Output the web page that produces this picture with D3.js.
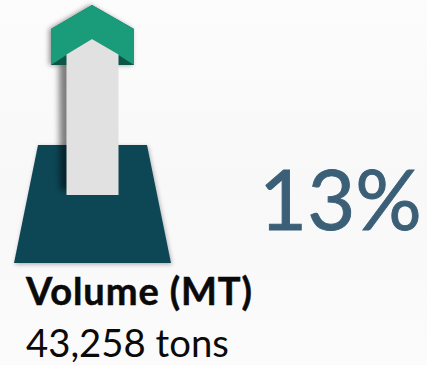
<!DOCTYPE html>
<html>
<head>
<meta charset="utf-8">
<script src="https://cdn.jsdelivr.net/npm/d3@7"></script>
<style>
html,body{margin:0;padding:0;background:#fafafa;}
svg{display:block;}
</style>
</head>
<body>
<svg id="chart" width="427" height="365"></svg>
<script>
// KPI card: volume change with an upward arrow on a plinth
const changeLabels = ["13%"];
const metricNames = ["Volume (MT)"];
const metricValues = [43258];
const metricUnits = ["tons"];

const colors = {
  plinth: "#0E4657",
  chevron: "#1A9C7B",
  chevronFold: "#115548",
  shaft: "#E1E1E1",
  change: "#3B5F77",
  text: "#0A0A0A"
};

const svg = d3.select("#chart");
const defs = svg.append("defs");

// Backdrop: faint vertical fade
const bg = defs.append("linearGradient").attr("id","bg").attr("x1",0).attr("y1",0).attr("x2",0).attr("y2",1);
bg.append("stop").attr("offset",0).attr("stop-color","#fcfcfc");
bg.append("stop").attr("offset",0.5).attr("stop-color","#f8f8f8");
bg.append("stop").attr("offset",1).attr("stop-color","#fbfbfb");
svg.append("rect").attr("width",427).attr("height",365).attr("fill","url(#bg)");

function dropShadow(id, dx, dy, blur, opacity){
  const f = defs.append("filter").attr("id",id)
    .attr("x","-40%").attr("y","-40%").attr("width","180%").attr("height","180%");
  f.append("feDropShadow").attr("dx",dx).attr("dy",dy).attr("stdDeviation",blur)
    .attr("flood-color","#000").attr("flood-opacity",opacity);
}
dropShadow("plinthShadow", 1, 1.5, 2, 0.3);
dropShadow("chevronShadow", -2, 0, 2.5, 0.4);

const blur = defs.append("filter").attr("id","shaftBlur")
  .attr("x","-60%").attr("y","-20%").attr("width","220%").attr("height","140%");
blur.append("feGaussianBlur").attr("stdDeviation",3);

const outline = d3.line().curve(d3.curveLinearClosed);

// Plinth
svg.append("path")
  .attr("d", outline([[38,145],[147,145],[171,263],[14,263]]))
  .attr("fill", colors.plinth)
  .attr("filter","url(#plinthShadow)");

// Shadow cast to the left of the shaft
svg.append("path")
  .attr("d", outline([[59,62],[72,62],[72,190],[60,190]]))
  .attr("fill", "#000").attr("opacity", 0.5)
  .attr("filter","url(#shaftBlur)");

// Chevron head with its folded undersides
svg.append("path")
  .attr("d", outline([[92,5],[134,29],[134,65],[51,65],[51,29]]))
  .attr("fill", colors.chevronFold)
  .attr("filter","url(#chevronShadow)");
svg.append("path")
  .attr("d", outline([[92,5],[134,29],[134,65],[118.5,55],[92,39],[66.5,55],[51,65],[51,29]]))
  .attr("fill", colors.chevron);

// Arrow shaft
svg.append("path")
  .attr("d", outline([[92,39],[118.5,54.5],[118.5,195],[66.5,195],[66.5,54.5]]))
  .attr("fill", colors.shaft);

const font = "Lato, 'Open Sans', sans-serif";

svg.append("text")
  .attr("x", 259).attr("y", 230)
  .attr("font-family", font).attr("font-size", 83)
  .attr("fill", colors.change)
  .attr("stroke", colors.change).attr("stroke-width", 0.9)
  .text(changeLabels[0]);

svg.append("text")
  .attr("x", 26).attr("y", 305)
  .attr("font-family", font).attr("font-size", 38).attr("font-weight", 700)
  .attr("letter-spacing", 0.9)
  .attr("fill", colors.text)
  .attr("stroke", colors.text).attr("stroke-width", 0.5)
  .text(metricNames[0]);

svg.append("text")
  .attr("x", 26).attr("y", 357)
  .attr("font-family", font).attr("font-size", 38.3)
  .attr("fill", colors.text)
  .text(`${d3.format(",")(metricValues[0])} ${metricUnits[0]}`);
</script>
</body>
</html>
